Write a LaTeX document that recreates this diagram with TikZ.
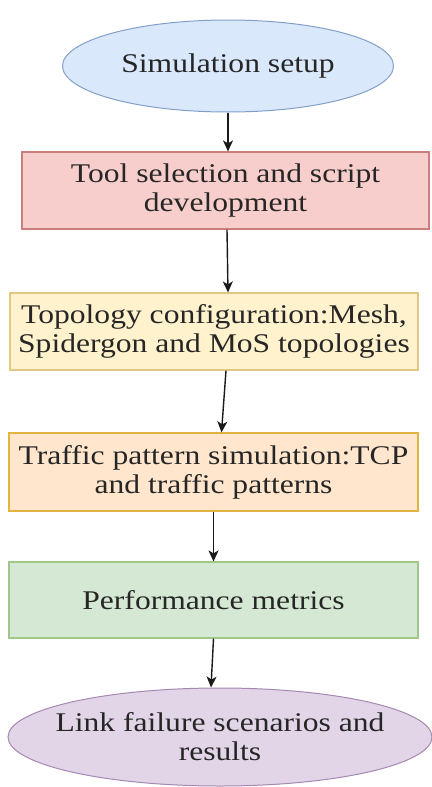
\documentclass[tikz,border=0pt]{standalone}
\usepackage{fontspec}
\setmainfont{Liberation Serif}[FakeStretch=1.17]
\usepackage{tikz}
\usetikzlibrary{shapes.geometric,arrows.meta}

\definecolor{bluefill}{HTML}{DAE8FC}  \definecolor{bluedraw}{HTML}{6C8EBF}
\definecolor{redfill}{HTML}{F8CECC}   \definecolor{reddraw}{HTML}{B85450}
\definecolor{yelfill}{HTML}{FFF2CC}   \definecolor{yeldraw}{HTML}{D6B656}
\definecolor{orfill}{HTML}{FFE6CC}    \definecolor{ordraw}{HTML}{D79B00}
\definecolor{grfill}{HTML}{D5E8D4}    \definecolor{grdraw}{HTML}{82B366}
\definecolor{pufill}{HTML}{E1D5E7}    \definecolor{pudraw}{HTML}{9673A6}

\begin{document}
\begin{tikzpicture}[x=1pt, y=-1pt,
    every node/.style={font=\fontsize{27}{29}\selectfont, text=black!85, align=center},
    stage/.style args={#1/#2}{draw=#2!75, fill=#1, line width=1.2pt, inner sep=0, minimum height=77pt, minimum width=408pt},
    oval/.style args={#1/#2}{ellipse, draw=#2!85, fill=#1, line width=1pt, inner sep=0},
    arr/.style={-{Stealth[length=11pt, width=10pt, inset=3pt]}, line width=1.4pt, black!90}
  ]
  \useasboundingbox (0,0) rectangle (431,787);

  \node[oval=bluefill/bluedraw, minimum width=331pt, minimum height=92pt,
        label={center:Simulation setup}] (setup) at (228,66) {};
  \node[stage=redfill/reddraw, minimum width=407pt] (tool) at (225.5,190.5)
        {Tool selection and script\\development};
  \node[stage=yelfill/yeldraw] (topo) at (214,331.5)
        {Topology configuration:Mesh,\\Spidergon and MoS topologies};
  \node[stage=orfill/ordraw, minimum width=409pt, minimum height=78pt] (traffic) at (213.5,472)
        {Traffic pattern simulation:TCP\\and traffic patterns};
  \node[stage=grfill/grdraw, minimum width=409pt, minimum height=76pt] (perf) at (213.5,600)
        {Performance metrics};
  \node[oval=pufill/pudraw, minimum width=424pt, minimum height=98pt,
        label={center:Link failure scenarios and\\results}] (link) at (220,737) {};

  % connectors
  \draw[arr] (setup.south) -- (setup.south |- tool.north);
  \draw[arr] ([xshift=1.5pt]tool.south) -- ([xshift=14pt]topo.north);
  \draw[arr] ([xshift=12pt]topo.south) -- ([xshift=8pt]traffic.north);
  \draw[arr] (traffic.south) -- (perf.north);
  \draw[arr] (perf.south) -- ([xshift=-9pt]link.north);
\end{tikzpicture}
\end{document}
